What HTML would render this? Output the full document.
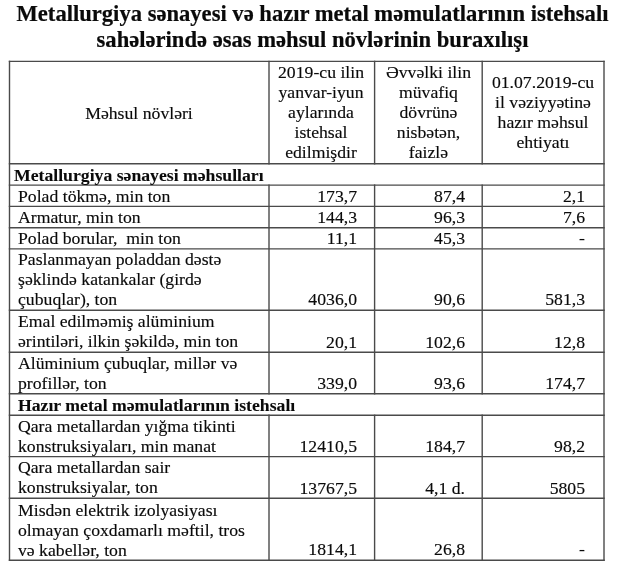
<!DOCTYPE html>
<html><head><meta charset="utf-8"><style>
html,body{margin:0;padding:0;background:#fff;width:620px;height:565px;overflow:hidden;position:relative}
svg{position:absolute;left:0;top:0}
body{will-change:transform}
.t{position:absolute;font-family:"Liberation Serif",serif;font-size:17.7px;line-height:20.1px;color:#0a0a0a;white-space:nowrap;-webkit-text-stroke:0.15px #0a0a0a}
b{-webkit-text-stroke:0.1px #0a0a0a}
.ttl{position:absolute;font-family:"Liberation Serif",serif;font-size:22.6px;font-weight:bold;line-height:26px;color:#0a0a0a;white-space:nowrap;left:0;width:625px;text-align:center;-webkit-text-stroke:0.2px #0a0a0a}
.r{text-align:right}
.c{text-align:center}
</style></head><body>
<div class="ttl" style="top:1px">Metallurgiya sənayesi və hazır metal məmulatlarının istehsalı<br>sahələrində əsas məhsul növlərinin buraxılışı</div>
<svg width="620" height="565" viewBox="0 0 620 565"><g stroke="#4a4a4a" stroke-width="1.4" stroke-linecap="square" fill="none"><line x1="9.5" y1="61.4" x2="604.0" y2="61.4"/><line x1="9.5" y1="163.8" x2="604.0" y2="163.8"/><line x1="9.5" y1="185.1" x2="604.0" y2="185.1"/><line x1="9.5" y1="206.4" x2="604.0" y2="206.4"/><line x1="9.5" y1="227.8" x2="604.0" y2="227.8"/><line x1="9.5" y1="248.9" x2="604.0" y2="248.9"/><line x1="9.5" y1="310.3" x2="604.0" y2="310.3"/><line x1="9.5" y1="352.2" x2="604.0" y2="352.2"/><line x1="9.5" y1="393.8" x2="604.0" y2="393.8"/><line x1="9.5" y1="415.3" x2="604.0" y2="415.3"/><line x1="9.5" y1="456.6" x2="604.0" y2="456.6"/><line x1="9.5" y1="498.3" x2="604.0" y2="498.3"/><line x1="9.5" y1="560.2" x2="604.0" y2="560.2"/><line x1="9.5" y1="61.4" x2="9.5" y2="560.2"/><line x1="604.0" y1="61.4" x2="604.0" y2="560.2"/><line x1="269.0" y1="61.4" x2="269.0" y2="163.8"/><line x1="269.0" y1="185.1" x2="269.0" y2="393.8"/><line x1="269.0" y1="415.3" x2="269.0" y2="560.2"/><line x1="374.6" y1="61.4" x2="374.6" y2="163.8"/><line x1="374.6" y1="185.1" x2="374.6" y2="393.8"/><line x1="374.6" y1="415.3" x2="374.6" y2="560.2"/><line x1="482.2" y1="61.4" x2="482.2" y2="163.8"/><line x1="482.2" y1="185.1" x2="482.2" y2="393.8"/><line x1="482.2" y1="415.3" x2="482.2" y2="560.2"/></g></svg>
<div class="t c" style="left:268px;width:106px;top:61.7px">2019-cu ilin<br>yanvar-iyun<br>aylarında<br>istehsal<br>edilmişdir</div>
<div class="t c" style="left:375px;width:107px;top:61.7px">Əvvəlki ilin<br>müvafiq<br>dövrünə<br>nisbətən,<br>faizlə</div>
<div class="t c" style="left:482px;width:122px;top:71.9px">01.07.2019-cu<br>il vəziyyətinə<br>hazır məhsul<br>ehtiyatı</div>
<div class="t c" style="left:9px;width:260px;top:102.5px">Məhsul növləri</div>
<div class="t" style="left:14px;top:165.0px"><b>Metallurgiya sənayesi məhsulları</b></div>
<div class="t" style="left:18px;top:186.0px">Polad tökmə, min ton</div>
<div class="t" style="left:18px;top:207.0px">Armatur, min ton</div>
<div class="t" style="left:18px;top:228.0px">Polad borular,&nbsp; min ton</div>
<div class="t" style="left:18px;top:249.0px">Paslanmayan poladdan dəstə<br>şəklində katankalar (girdə<br>çubuqlar), ton</div>
<div class="t" style="left:18px;top:311.0px">Emal edilməmiş alüminium<br>ərintiləri, ilkin şəkildə, min ton</div>
<div class="t" style="left:18px;top:353.0px">Alüminium çubuqlar, millər və<br>profillər, ton</div>
<div class="t" style="left:18px;top:394.5px"><b>Hazır metal məmulatlarının istehsalı</b></div>
<div class="t" style="left:18px;top:416.0px">Qara metallardan yığma tikinti<br>konstruksiyaları, min manat</div>
<div class="t" style="left:18px;top:457.0px">Qara metallardan sair<br>konstruksiyalar, ton</div>
<div class="t" style="left:18px;top:499.6px">Misdən elektrik izolyasiyası<br>olmayan çoxdamarlı məftil, tros<br>və kabellər, ton</div>
<div class="t r" style="left:270px;width:87px;top:186.0px">173,7</div>
<div class="t r" style="left:376px;width:89px;top:186.0px">87,4</div>
<div class="t r" style="left:483px;width:102px;top:186.0px">2,1</div>
<div class="t r" style="left:270px;width:87px;top:207.0px">144,3</div>
<div class="t r" style="left:376px;width:89px;top:207.0px">96,3</div>
<div class="t r" style="left:483px;width:102px;top:207.0px">7,6</div>
<div class="t r" style="left:270px;width:87px;top:228.0px">11,1</div>
<div class="t r" style="left:376px;width:89px;top:228.0px">45,3</div>
<div class="t r" style="left:483px;width:102px;top:228.0px">-</div>
<div class="t r" style="left:270px;width:87px;top:289.0px">4036,0</div>
<div class="t r" style="left:376px;width:89px;top:289.0px">90,6</div>
<div class="t r" style="left:483px;width:102px;top:289.0px">581,3</div>
<div class="t r" style="left:270px;width:87px;top:331.5px">20,1</div>
<div class="t r" style="left:376px;width:89px;top:331.5px">102,6</div>
<div class="t r" style="left:483px;width:102px;top:331.5px">12,8</div>
<div class="t r" style="left:270px;width:87px;top:373.0px">339,0</div>
<div class="t r" style="left:376px;width:89px;top:373.0px">93,6</div>
<div class="t r" style="left:483px;width:102px;top:373.0px">174,7</div>
<div class="t r" style="left:270px;width:87px;top:436.0px">12410,5</div>
<div class="t r" style="left:376px;width:89px;top:436.0px">184,7</div>
<div class="t r" style="left:483px;width:102px;top:436.0px">98,2</div>
<div class="t r" style="left:270px;width:87px;top:477.7px">13767,5</div>
<div class="t r" style="left:376px;width:89px;top:477.7px">4,1 d.</div>
<div class="t r" style="left:483px;width:102px;top:477.7px">5805</div>
<div class="t r" style="left:270px;width:87px;top:539.4px">1814,1</div>
<div class="t r" style="left:376px;width:89px;top:539.4px">26,8</div>
<div class="t r" style="left:483px;width:102px;top:539.4px">-</div>
</body></html>
